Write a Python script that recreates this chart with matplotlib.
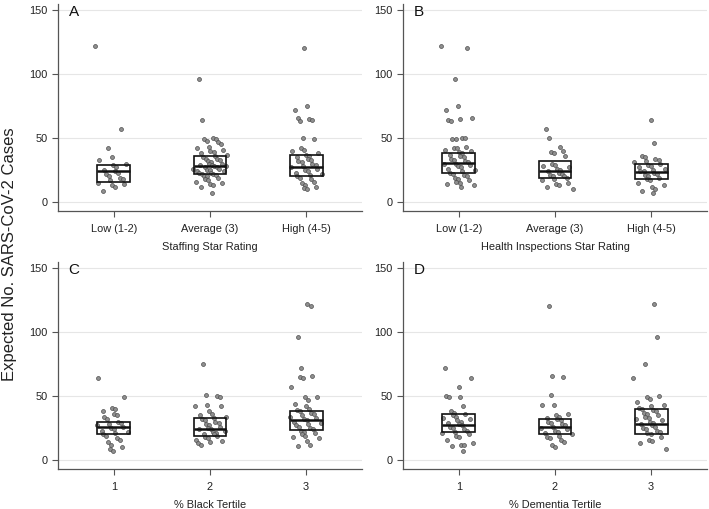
import matplotlib
matplotlib.use("Agg")
import matplotlib.pyplot as plt
import numpy as np

plt.rcParams['font.family'] = ['Liberation Sans', 'DejaVu Sans']

cats_A = ["Low (1-2)", "Average (3)", "High (4-5)"]
cats_B = ["Low (1-2)", "Average (3)", "High (4-5)"]
cats_C = ["1", "2", "3"]
cats_D = ["1", "2", "3"]

xlabels = ["Staffing Star Rating", "Health Inspections Star Rating",
           "% Black Tertile", "% Dementia Tertile"]
letters = ["A", "B", "C", "D"]

# Box summaries (q1, median, q3) per group
q1_A = [15.6, 22.1, 20.6]; med_A = [24.0, 28.1, 27.6]; q3_A = [29.2, 36.2, 36.7]
q1_B = [22.9, 18.8, 17.7]; med_B = [30.7, 24.2, 23.7]; q3_B = [38.3, 31.8, 30.0]
q1_C = [20.3, 19.0, 23.4]; med_C = [25.5, 24.4, 31.2]; q3_C = [29.9, 33.0, 38.5]
q1_D = [22.1, 20.0, 20.5]; med_D = [27.0, 25.7, 28.3]; q3_D = [35.6, 32.0, 40.0]

# Points per group
A_low = [122, 57, 42, 35, 33, 30, 29, 27, 25, 24, 23, 22, 20, 19, 18, 17, 15, 14, 13, 12, 9]
A_avg = [96, 64, 50, 49, 49, 48, 47, 45, 43, 42, 41, 40, 39, 38, 37, 36, 35, 34, 34, 33, 32,
         31, 30, 30, 29, 29, 28, 28, 27, 27, 26, 26, 25, 25, 24, 24, 23, 23, 22, 22, 21, 20,
         20, 19, 18, 17, 16, 15, 14, 13, 12, 7]
A_high = [120, 75, 72, 66, 65, 64, 63, 50, 49, 42, 41, 40, 38, 37, 36, 35, 34, 33, 32, 31,
          30, 29, 28, 27, 26, 25, 24, 23, 22, 21, 20, 19, 18, 16, 15, 13, 12, 11, 10]
B_low = [122, 120, 96, 75, 72, 66, 65, 64, 63, 50, 50, 49, 49, 43, 42, 42, 41, 40, 39, 38,
         37, 36, 35, 34, 33, 32, 31, 30, 30, 29, 28, 27, 26, 25, 24, 23, 22, 21, 20, 19,
         18, 17, 16, 15, 14, 13, 12]
B_avg = [57, 50, 43, 40, 39, 38, 36, 30, 29, 28, 27, 26, 25, 24, 23, 22, 21, 20, 20, 19,
         18, 17, 15, 14, 13, 12, 10]
B_high = [64, 46, 36, 35, 34, 33, 32, 31, 30, 29, 28, 27, 26, 25, 24, 24, 23, 22, 21, 20,
          19, 18, 17, 15, 13, 12, 10, 9, 7]
C_1 = [64, 49, 41, 40, 38, 36, 35, 34, 32, 30, 29, 28, 27, 26, 25, 24, 23, 22, 21, 20, 19,
       17, 16, 14, 12, 10, 9, 7]
C_2 = [75, 51, 50, 49, 43, 42, 42, 38, 36, 35, 34, 33, 32, 31, 30, 29, 28, 27, 26, 25, 24,
       24, 23, 22, 21, 20, 20, 19, 18, 17, 16, 15, 14, 13, 12]
C_3 = [122, 120, 96, 72, 66, 65, 64, 57, 49, 49, 47, 44, 42, 40, 39, 38, 37, 36, 35, 34, 33,
       32, 31, 30, 29, 28, 27, 26, 25, 24, 23, 22, 21, 20, 19, 18, 17, 15, 12, 11]
D_1 = [72, 64, 57, 50, 49, 49, 42, 38, 37, 36, 35, 34, 33, 32, 31, 30, 29, 28, 27, 26, 25,
       24, 23, 22, 21, 20, 19, 18, 16, 13, 12, 12, 11, 7]
D_2 = [120, 66, 65, 51, 43, 43, 36, 35, 34, 33, 32, 31, 30, 29, 28, 27, 26, 25, 24, 23, 22,
       21, 20, 19, 18, 17, 16, 14, 12, 10]
D_3 = [122, 96, 75, 64, 50, 49, 48, 45, 43, 42, 41, 40, 39, 38, 37, 36, 35, 34, 33, 32, 31,
       30, 29, 28, 27, 26, 25, 24, 23, 22, 21, 20, 18, 16, 15, 13, 9]

panels = [
    (cats_A, [A_low, A_avg, A_high], q1_A, med_A, q3_A),
    (cats_B, [B_low, B_avg, B_high], q1_B, med_B, q3_B),
    (cats_C, [C_1, C_2, C_3], q1_C, med_C, q3_C),
    (cats_D, [D_1, D_2, D_3], q1_D, med_D, q3_D),
]

W, H = 709, 509
fig = plt.figure(figsize=(W / 100, H / 100), dpi=100)
ax_w = 304 / W
ax_h = 207.4 / H
positions = [(58 / W, 1 - 211 / H), (403 / W, 1 - 211 / H),
             (58 / W, 1 - 469 / H), (403 / W, 1 - 469 / H)]

spine_col = "#555555"
box_w = 0.34
for k, (cats, groups, q1, med, q3) in enumerate(panels):
    ax = fig.add_axes([positions[k][0], positions[k][1], ax_w, ax_h])
    ax.set_xlim(0.42, 3.58)
    ax.set_ylim(-7, 155)
    ax.set_yticks([0, 50, 100, 150])
    ax.set_xticks([1, 2, 3])
    ax.set_xticklabels(cats)
    ax.yaxis.grid(True, color="#e6e6e6", linewidth=0.8)
    ax.set_axisbelow(True)
    for s in ["top", "right"]:
        ax.spines[s].set_visible(False)
    for s in ["left", "bottom"]:
        ax.spines[s].set_color(spine_col)
        ax.spines[s].set_linewidth(0.9)
    ax.tick_params(axis="both", colors=spine_col, labelcolor="#222222",
                   labelsize=7.9, length=4, width=0.8, direction="out")
    ax.tick_params(axis="x", pad=5)
    ax.set_xlabel(xlabels[k], fontsize=7.9, color="#222222", labelpad=6)
    ax.text(0.035, 0.995, letters[k], transform=ax.transAxes, fontsize=11,
            va="top", ha="left", color="#111111")
    for g, vals in enumerate(groups):
        xc = g + 1
        n = len(vals)
        offs = np.array([(((i * 0.7548776662 + 0.37 * g) % 1.0) * 0.6 +
                          ((i * 0.5698402910 + 0.11 * k) % 1.0) * 0.4) - 0.5
                         for i in range(n)]) * 0.40
        ax.scatter(xc + offs, vals, s=8, facecolor="#8f8f8f", edgecolor="#4d4d4d",
                   linewidth=0.5, zorder=3)
        ax.bar(xc, q3[g] - q1[g], bottom=q1[g], width=box_w, facecolor="none",
               edgecolor="#111111", linewidth=1.2, zorder=4)
        ax.plot([xc - box_w / 2, xc + box_w / 2], [med[g], med[g]], color="#111111",
                linewidth=1.8, zorder=5, solid_capstyle="butt")

fig.text(0.013, 0.5, "Expected No. SARS-CoV-2 Cases", rotation=90, va="center",
         ha="center", fontsize=12, color="#222222")

fig.savefig("out.png", dpi=100)
